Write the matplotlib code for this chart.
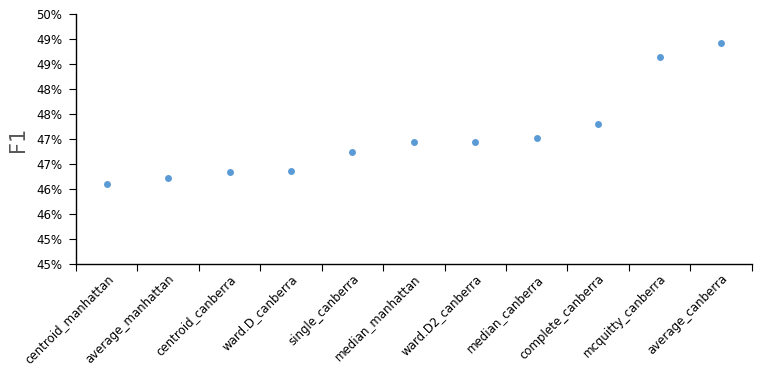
import matplotlib
matplotlib.use('Agg')
from matplotlib import pyplot as plt
import numpy as np

methods = ['centroid_manhattan', 'average_manhattan', 'centroid_canberra', 'ward.D_canberra',
           'single_canberra', 'median_manhattan', 'ward.D2_canberra', 'median_canberra',
           'complete_canberra', 'mcquitty_canberra', 'average_canberra']
f1 = [46.60, 46.72, 46.84, 46.86, 47.25, 47.44, 47.44, 47.52, 47.80, 49.14, 49.42]
y_ticks = [45, 45.5, 46, 46.5, 47, 47.5, 48, 48.5, 49, 49.5, 50]
y_labels = ['45%', '45%', '46%', '46%', '47%', '47%', '48%', '48%', '49%', '49%', '50%']

plt.rcParams['font.family'] = ['DejaVu Sans']

fig = plt.figure(figsize=(7.6, 3.72), dpi=100)
ax = fig.add_axes([0.1, 0.29, 0.889, 0.672])

x = np.arange(len(methods))
ax.plot(x, f1, 'o', color='#5B9BD5', markersize=5, markeredgewidth=0)

ax.set_xlim(-0.5, len(methods) - 0.5)
ax.set_ylim(45, 50)
ax.set_yticks(y_ticks)
ax.set_yticklabels(y_labels, fontsize=8.5)

# Excel-style: tick marks between categories, labels at centres
ax.set_xticks(np.arange(-0.5, len(methods)), minor=False)
ax.set_xticklabels([])
ax.set_xticks(x, minor=True)
ax.set_xticklabels(methods, minor=True, rotation=45, ha='right',
                   rotation_mode='anchor', fontsize=8.5)
ax.tick_params(axis='x', which='minor', length=0, pad=6)
ax.tick_params(axis='x', which='major', length=5, direction='out')
ax.tick_params(axis='y', length=5, direction='out', pad=5)

for s in ['top', 'right']:
    ax.spines[s].set_visible(False)
for s in ['left', 'bottom']:
    ax.spines[s].set_color('black')
    ax.spines[s].set_linewidth(1)

ax.set_ylabel('F1', fontsize=15, color='#595959', labelpad=6)

plt.savefig('out.png', dpi=100)
